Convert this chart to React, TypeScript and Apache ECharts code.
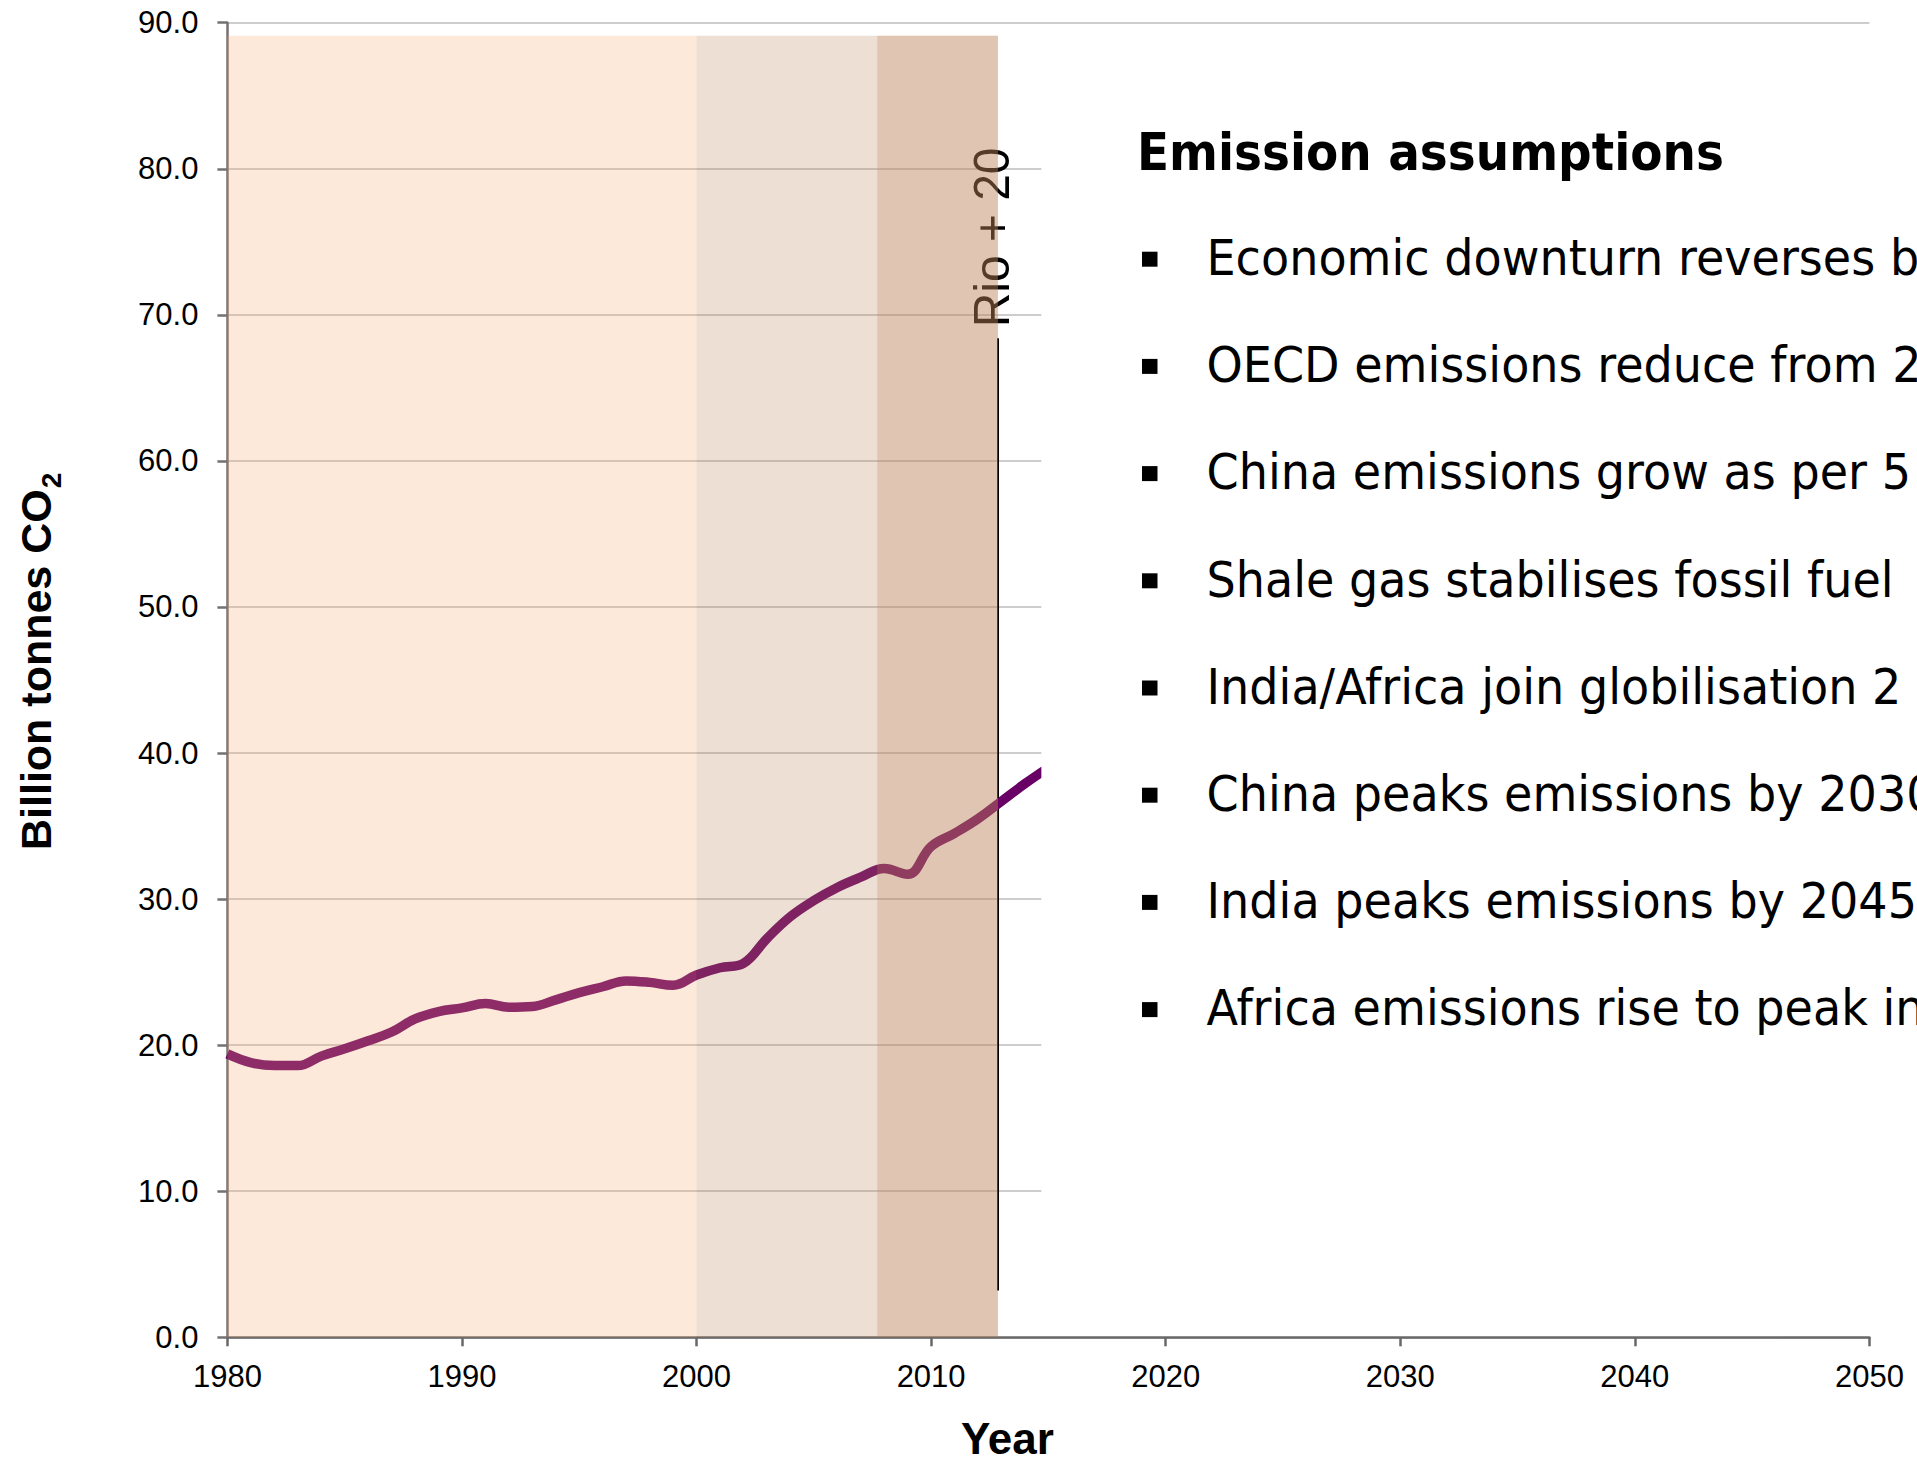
import React, { useEffect, useRef } from "react";
import * as echarts from "echarts";

// ---- data ----
const years = [
  1980, 1981, 1982, 1983, 1984, 1985, 1986, 1987, 1988, 1989,
  1990, 1991, 1992, 1993, 1994, 1995, 1996, 1997, 1998, 1999,
  2000, 2001, 2002, 2003, 2004, 2005, 2006, 2007, 2008, 2009,
  2010, 2011, 2012, 2013, 2014, 2015,
];
const emissions = [
  19.4, 18.8, 18.6, 18.6, 19.25, 19.75, 20.3, 20.9, 21.8, 22.3,
  22.55, 22.85, 22.6, 22.65, 23.1, 23.6, 24.0, 24.4, 24.3, 24.1,
  24.8, 25.3, 25.6, 27.3, 28.8, 29.9, 30.8, 31.5, 32.1, 31.7,
  33.6, 34.5, 35.5, 36.7, 37.9, 39.0,
];

const xMin = 1980;
const xMax = 2050;
const xInterval = 10;
const yMin = 0;
const yMax = 90;
const yInterval = 10;

const bandStarts = [1980, 2000, 2007.7];
const bandEnds = [2000, 2012.85, 2012.85];
const bandTop = 89.1;
const bandColors = [
  "rgba(247,170,109,0.26)",
  "rgba(190,132,88,0.26)",
  "rgba(190,132,88,0.27)",
];

const rioYear = 2012.85;
const rioLineRange = [3.2, 68.4];
const rioLabel = "Rio + 20";
const rioLabelCenterValue = 75.3;

const boxTitle = "Emission assumptions";
const boxItems = [
  "Economic downturn reverses b",
  "OECD emissions reduce from 2",
  "China emissions grow as per 5",
  "Shale gas stabilises fossil fuel",
  "India/Africa join globilisation 2",
  "China peaks emissions by 2030",
  "India peaks emissions by 2045",
  "Africa emissions rise to peak in",
];

const yAxisTitle = "Billion tonnes CO";
const yAxisTitleSub = "2";
const xAxisTitle = "Year";

const LINE_COLOR = "#680066";
const AXIS_FONT = "Liberation Sans";
const BOX_FONT = "DejaVu Sans";

function measure(text: string, font: string): number {
  const c = document.createElement("canvas");
  const ctx = c.getContext("2d")!;
  ctx.font = font;
  return ctx.measureText(text).width;
}

export default function App() {
  const ref = useRef<HTMLDivElement>(null);

  useEffect(() => {
    if (!ref.current) return;
    const chart = echarts.init(ref.current, undefined, { renderer: "svg" });

    const bandData = bandStarts.map((s, i) => [
      { xAxis: s, yAxis: 0, itemStyle: { color: bandColors[i] } },
      { xAxis: bandEnds[i], yAxis: bandTop },
    ]);

    chart.setOption({
      animation: false,
      backgroundColor: "#ffffff",
      textStyle: { fontFamily: AXIS_FONT },
      grid: {
        left: 227.4,
        right: 47.6,
        top: 22.7,
        bottom: 119.7,
        containLabel: false,
        outerBoundsMode: "none",
      },
      xAxis: {
        type: "value",
        min: xMin,
        max: xMax,
        interval: xInterval,
        name: xAxisTitle,
        nameLocation: "middle",
        nameGap: 85,
        nameTextStyle: {
          fontFamily: AXIS_FONT,
          fontSize: 44,
          lineHeight: 32,
          fontWeight: "bold",
          color: "#000",
          padding: [0, 82, 0, 0],
        },
        axisLine: { show: true, lineStyle: { color: "#686868", width: 2.5 } },
        axisTick: { show: true, inside: false, length: 9, lineStyle: { color: "#686868", width: 2.5 } },
        axisLabel: {
          fontFamily: AXIS_FONT,
          fontSize: 31,
          color: "#000",
          margin: 24,
          formatter: (v: number) => String(v),
        },
        splitLine: { show: false },
      },
      yAxis: {
        type: "value",
        min: yMin,
        max: yMax,
        interval: yInterval,
        axisLine: { show: true, lineStyle: { color: "#767171", width: 2.5 } },
        axisTick: { show: true, inside: false, length: 10, lineStyle: { color: "#767171", width: 2.5 } },
        axisLabel: {
          fontFamily: AXIS_FONT,
          fontSize: 31,
          color: "#000",
          margin: 29,
          formatter: (v: number) => v.toFixed(1),
        },
        splitLine: { show: true, lineStyle: { color: "#bdbdbd", width: 1.5 } },
      },
      series: [
        {
          type: "line",
          data: years.map((y, i) => [y, emissions[i]]),
          smooth: 0.4,
          showSymbol: false,
          symbol: "none",
          z: 2,
          lineStyle: { color: LINE_COLOR, width: 9.5, cap: "butt" },
          markArea: {
            silent: true,
            z: 3,
            label: { show: false },
            data: bandData,
          },
          markLine: {
            silent: true,
            z: 2,
            symbol: ["none", "none"],
            label: { show: false },
            lineStyle: { color: "#000", width: 2, type: "solid" },
            data: [
              [
                { coord: [rioYear, rioLineRange[0]] },
                { coord: [rioYear, rioLineRange[1]] },
              ],
            ],
          },
        },
      ],
    });

    // annotation positions through the chart's own scales
    const rioPx = chart.convertToPixel({ xAxisIndex: 0, yAxisIndex: 0 }, [rioYear, rioLabelCenterValue]) as number[];
    const boxLeftPx = chart.convertToPixel({ xAxisIndex: 0, yAxisIndex: 0 }, [2014.7, 0]) as number[];

    const bodySize = 49;
    const bodyFont = `${bodySize}px "${BOX_FONT}"`;
    const bodyScale = 683.7 / measure("Economic downturn reverses ", bodyFont);
    const titleSize = 51;
    const titleScale = 587 / measure(boxTitle, `bold ${titleSize}px "${BOX_FONT}"`);
    const rioSize = 50;
    const rioScale = 180 / measure(rioLabel, `${rioSize}px "${AXIS_FONT}"`);
    const yTitleSize = 43;
    const yTitleLen = measure(yAxisTitle, `bold ${yTitleSize}px "${AXIS_FONT}"`);

    const firstBaseline = 275;
    const step = 107.2;
    const textX = 1206.5;

    const graphics: any[] = [
      {
        type: "rect",
        z: 2.5,
        silent: true,
        shape: { x: boxLeftPx[0], y: 30, width: 1917 - boxLeftPx[0], height: 1290 },
        style: { fill: "#ffffff" },
      },
      {
        type: "text",
        z: 4,
        x: 1137,
        y: 170 - 0.346 * titleSize,
        scaleX: titleScale,
        style: {
          text: boxTitle,
          fontFamily: BOX_FONT,
          fontSize: titleSize,
          fontWeight: "bold",
          fill: "#000",
          textAlign: "left",
          textVerticalAlign: "middle",
        },
      },
      {
        type: "text",
        z: 1,
        x: rioPx[0] - 6,
        y: rioPx[1],
        rotation: Math.PI / 2,
        scaleX: rioScale,
        style: {
          text: rioLabel,
          fontFamily: AXIS_FONT,
          fontSize: rioSize,
          fill: "#000",
          textAlign: "center",
          textVerticalAlign: "middle",
        },
      },
      {
        type: "text",
        z: 1,
        x: 35.9,
        y: 850,
        rotation: Math.PI / 2,
        style: {
          text: yAxisTitle,
          fontFamily: AXIS_FONT,
          fontSize: yTitleSize,
          fontWeight: "bold",
          fill: "#000",
          textAlign: "left",
          textVerticalAlign: "middle",
        },
      },
      {
        type: "text",
        z: 1,
        x: 51.7,
        y: 850 - yTitleLen - 1,
        rotation: Math.PI / 2,
        style: {
          text: yAxisTitleSub,
          fontFamily: AXIS_FONT,
          fontSize: 28,
          fontWeight: "bold",
          fill: "#000",
          textAlign: "left",
          textVerticalAlign: "middle",
        },
      },
    ];

    boxItems.forEach((t, i) => {
      const baseline = firstBaseline + i * step;
      graphics.push({
        type: "rect",
        z: 4,
        silent: true,
        shape: { x: 1142, y: baseline - 23.3, width: 15.5, height: 15 },
        style: { fill: "#000" },
      });
      graphics.push({
        type: "text",
        z: 4,
        x: textX,
        y: baseline - 0.346 * bodySize,
        scaleX: bodyScale,
        style: {
          text: t,
          fontFamily: BOX_FONT,
          fontSize: bodySize,
          fill: "#000",
          textAlign: "left",
          textVerticalAlign: "middle",
        },
      });
    });

    chart.setOption({ graphic: graphics });

    return () => {
      chart.dispose();
    };
  }, []);

  return (
    <div
      ref={ref}
      style={{ position: "fixed", left: 0, top: 0, width: "1917px", height: "1457px", background: "#fff" }}
    />
  );
}
